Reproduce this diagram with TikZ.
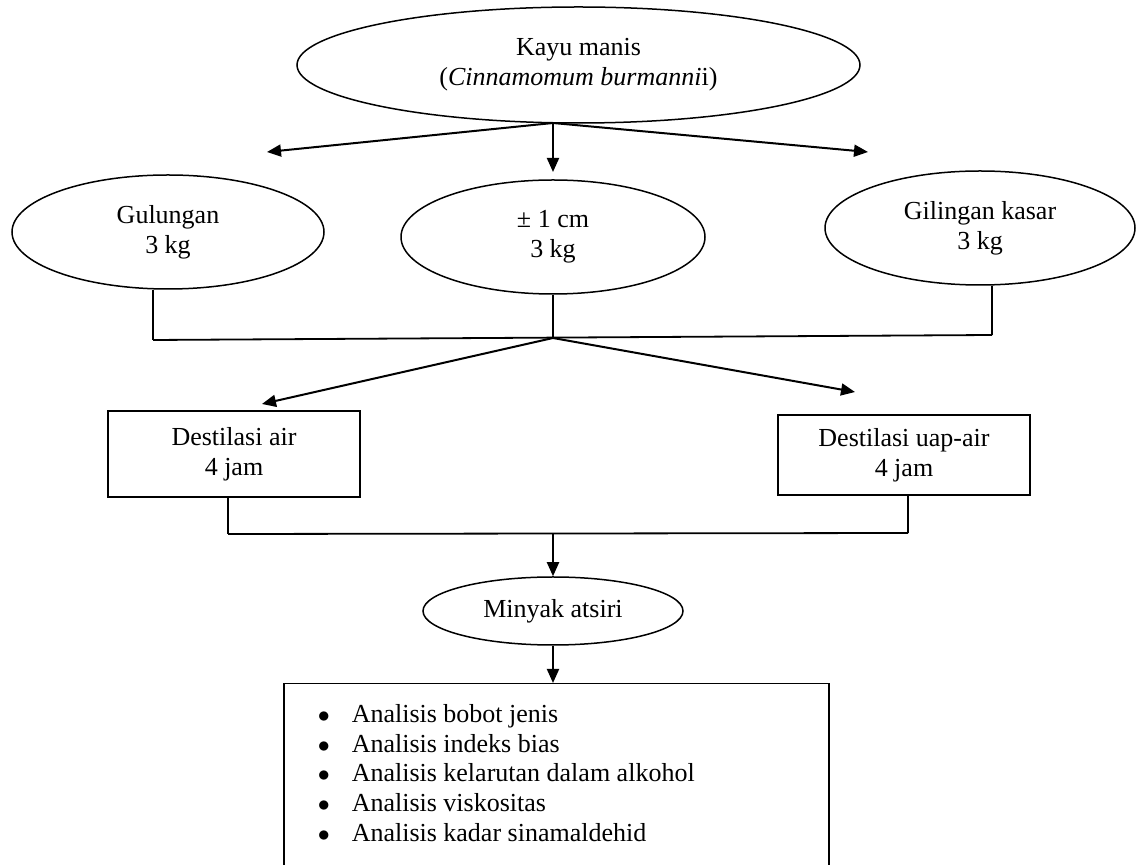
\documentclass[tikz,border=0pt]{standalone}
\usepackage{fontspec}
\setmainfont{Liberation Serif}
\usetikzlibrary{shapes.geometric,arrows.meta}
\begin{document}
\begin{tikzpicture}[x=0.5pt,y=-0.5pt,
  every node/.style={font=\fontsize{13}{15}\selectfont, align=center},
  ell/.style={draw, ellipse, line width=0.75pt, inner sep=0pt},
  box/.style={draw, rectangle, line width=0.75pt, inner sep=0pt},
  conn/.style={line width=0.9pt},
  arr/.style={line width=1pt, -{Triangle[length=7pt,width=6pt]}}]
\useasboundingbox (0,0) rectangle (1136,865);
\clip (0,0) rectangle (1136,865);
% nodes
\node[ell, minimum width=281.5pt, minimum height=58pt] (kayu) at (578.5,65)
  {Kayu manis\\(\textit{Cinnamomum burmanni}i)};
\node[ell, minimum width=156pt, minimum height=57pt] (gul) at (168,232) {Gulungan\\3 kg};
\node[ell, minimum width=152pt, minimum height=57pt] (cm) at (553,237) {± 1 cm\\3 kg};
\node[ell, minimum width=155pt, minimum height=57pt] (gil) at (980,228) {Gilingan kasar\\3 kg};
\node[box, minimum width=126pt, minimum height=43pt] (da) at (234,454) {Destilasi air\\4 jam};
\node[box, minimum width=126pt, minimum height=40pt] (du) at (904,455) {Destilasi uap-air\\4 jam};
\node[ell, minimum width=130pt, minimum height=34pt] (mi) at (553,611) {Minyak atsiri};
\node[box, anchor=north west, align=left] (ana) at (283,683) {%
\begin{minipage}[t][115pt][t]{272.5pt}\fontsize{13}{14.8}\selectfont
\rule{0pt}{19.5pt}\hspace*{17pt}\makebox[17pt][l]{$\bullet$}Analisis bobot jenis\\
\hspace*{17pt}\makebox[17pt][l]{$\bullet$}Analisis indeks bias\\
\hspace*{17pt}\makebox[17pt][l]{$\bullet$}Analisis kelarutan dalam alkohol\\
\hspace*{17pt}\makebox[17pt][l]{$\bullet$}Analisis viskositas\\
\hspace*{17pt}\makebox[17pt][l]{$\bullet$}Analisis kadar sinamaldehid
\end{minipage}};
% junction coordinates
\coordinate (j1) at (553,123);
\coordinate (tL) at (267,152);
\coordinate (tR) at (868,152);
\coordinate (b1) at (153,340);
\coordinate (b2) at (553,338);
\coordinate (b3) at (992,335);
\coordinate (tDA) at (262,404);
\coordinate (tDU) at (855,392);
\coordinate (c1) at (228,534);
\coordinate (c2) at (908,533);
\coordinate (c3) at (553,533.5);
% connectors
\draw[arr] (j1) -- (tL);
\draw[arr] (j1) -- (cm.north |- 0,172);
\draw[arr] (j1) -- (tR);
\draw[conn] (gul.south -| b1) -- (b1);
\draw[conn] (cm.south) -- (b2);
\draw[conn] (gil.south -| b3) -- (b3);
\draw[conn] (b1) -- (b3);
\draw[arr] (b2) -- (tDA);
\draw[arr] (b2) -- (tDU);
\draw[conn] (da.south -| c1) -- (c1);
\draw[conn] (du.south -| c2) -- (c2);
\draw[conn] (c1) -- (c2);
\draw[arr] (c3) -- (mi.north);
\draw[arr] (mi.south) -- (mi.south |- ana.north);
\end{tikzpicture}
\end{document}
